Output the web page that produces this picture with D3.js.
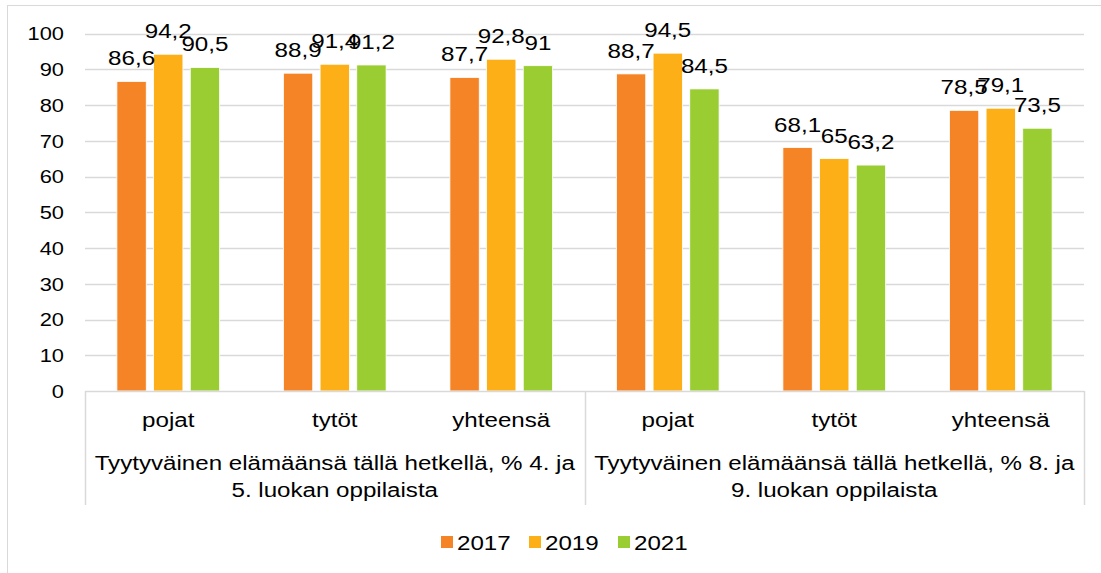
<!DOCTYPE html>
<html>
<head>
<meta charset="utf-8">
<script src="https://cdn.jsdelivr.net/npm/d3@7"></script>
<style>
  body { margin: 0; background: #fff; }
  text { font-family: "Liberation Sans", Arial, sans-serif; fill: #000; }
</style>
</head>
<body>
<div id="chart"></div>
<script>
// data
const years = ["2017", "2019", "2021"];
const categories = ["pojat", "tytöt", "yhteensä", "pojat", "tytöt", "yhteensä"];
const groupLabels = [
  ["Tyytyväinen elämäänsä tällä hetkellä, % 4. ja", "5. luokan oppilaista"],
  ["Tyytyväinen elämäänsä tällä hetkellä, % 8. ja", "9. luokan oppilaista"]
];
const values2017 = [86.6, 88.9, 87.7, 88.7, 68.1, 78.5];
const values2019 = [94.2, 91.4, 92.8, 94.5, 65, 79.1];
const values2021 = [90.5, 91.2, 91, 84.5, 63.2, 73.5];
const yTicks = [0, 10, 20, 30, 40, 50, 60, 70, 80, 90, 100];
const colors = ["#f58426", "#fcaf17", "#9acd32"];

const series = [values2017, values2019, values2021];

let width = 1101;
let height = 573;
const sx = 1.15; // text in the original is a bit wider than it is tall

// position a text with a horizontal stretch
function place(x, yy) {
  return "translate(" + x + "," + yy + ") scale(" + sx + ",1)";
}

const svg = d3.select("#chart").append("svg")
  .attr("width", width)
  .attr("height", height);

// outer chart border (only left/top visible)
svg.append("rect")
  .attr("x", 7.5).attr("y", 5.5)
  .attr("width", 1110).attr("height", 600)
  .attr("fill", "none")
  .attr("stroke", "#d9d9d9");

const plotLeft = 85, plotRight = 1084, plotTop = 33.5, plotBottom = 391;

const y = d3.scaleLinear().domain([0, 100]).range([plotBottom, plotTop]);
const x0 = d3.scaleBand().domain(d3.range(categories.length)).range([plotLeft, plotRight]).padding(0);
const x1 = d3.scaleBand().domain(years).range([0, x0.bandwidth()])
  .paddingInner(0.2).paddingOuter(0.87);

// gridlines
svg.append("g").selectAll("line")
  .data(yTicks.filter(d => d > 0))
  .enter().append("line")
  .attr("x1", plotLeft).attr("x2", plotRight)
  .attr("y1", d => Math.round(y(d)) + 0.5)
  .attr("y2", d => Math.round(y(d)) + 0.5)
  .attr("stroke", "#d9d9d9")
  .attr("stroke-width", 1.5);

// y tick labels
svg.append("g").selectAll("text")
  .data(yTicks)
  .enter().append("text")
  .attr("transform", d => place(64, y(d)))
  .attr("dy", "0.36em")
  .attr("text-anchor", "end")
  .attr("font-size", "19px")
  .text(d => d);

// bars
const groups = svg.append("g").selectAll("g")
  .data(categories.map((c, i) => i))
  .enter().append("g")
  .attr("transform", i => "translate(" + x0(i) + ",0)");

groups.selectAll("rect")
  .data(i => years.map((yr, s) => ({ yr: yr, s: s, v: series[s][i] })))
  .enter().append("rect")
  .attr("x", d => x1(d.yr))
  .attr("y", d => y(d.v))
  .attr("width", x1.bandwidth())
  .attr("height", d => y(0) - y(d.v))
  .attr("fill", d => colors[d.s])
  .attr("stroke", "#fff")
  .attr("stroke-width", 0.8);

// data labels
groups.selectAll("text")
  .data(i => years.map((yr, s) => ({ yr: yr, s: s, v: series[s][i] })))
  .enter().append("text")
  .attr("transform", d => place(x1(d.yr) + x1.bandwidth() / 2, y(d.v) - 16))
  .attr("text-anchor", "middle")
  .attr("font-size", "21px")
  .text(d => String(d.v).replace(".", ","));

// category axis (table style)
const axisColor = "#d9d9d9";
svg.append("line")
  .attr("x1", plotLeft).attr("x2", plotRight)
  .attr("y1", plotBottom + 0.5).attr("y2", plotBottom + 0.5)
  .attr("stroke", axisColor).attr("stroke-width", 1.5);

[plotLeft, (plotLeft + plotRight) / 2, plotRight].forEach(xv => {
  svg.append("line")
    .attr("x1", Math.round(xv) + 0.5).attr("x2", Math.round(xv) + 0.5)
    .attr("y1", plotBottom).attr("y2", 505)
    .attr("stroke", axisColor).attr("stroke-width", 1.5);
});

svg.append("g").selectAll("text")
  .data(categories)
  .enter().append("text")
  .attr("transform", (d, i) => place(x0(i) + x0.bandwidth() / 2, 427))
  .attr("text-anchor", "middle")
  .attr("font-size", "21px")
  .text(d => d);

const half = (plotRight - plotLeft) / 2;
groupLabels.forEach((lines, g) => {
  lines.forEach((ln, k) => {
    svg.append("text")
      .attr("transform", place(plotLeft + half * g + half / 2, 470 + k * 27))
      .attr("text-anchor", "middle")
      .attr("font-size", "21px")
      .text(ln);
  });
});

// legend
const legendX = [441, 529, 618];
const legend = svg.append("g").selectAll("g")
  .data(years)
  .enter().append("g")
  .attr("transform", (d, i) => "translate(" + legendX[i] + ",536)");

legend.append("rect")
  .attr("width", 12).attr("height", 12)
  .attr("fill", (d, i) => colors[i]);

legend.append("text")
  .attr("transform", place(16, 14))
  .attr("font-size", "21px")
  .text(d => d);
</script>
</body>
</html>
